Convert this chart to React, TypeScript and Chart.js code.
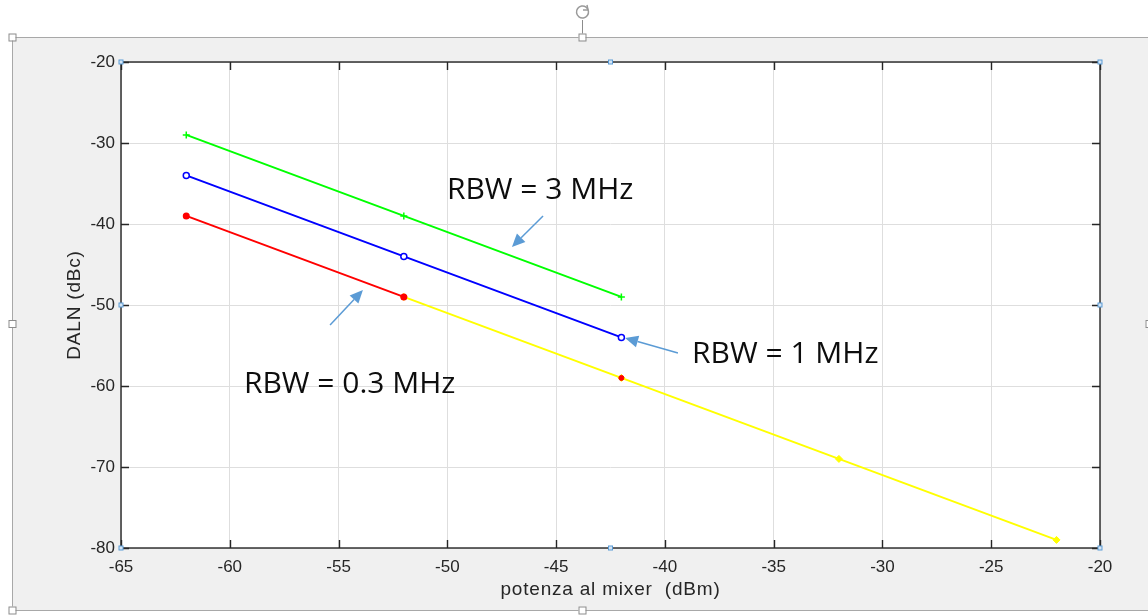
import React, { useEffect, useRef } from "react";
import { Chart, registerables } from "chart.js";

Chart.register(...registerables);

// ---- data ----
const xGreen = [-62, -52, -42];
const yGreen = [-29, -39, -49];
const xBlue = [-62, -52, -42];
const yBlue = [-34, -44, -54];
const xRed = [-62, -52];
const yRed = [-39, -49];
const xRedMark = [-42];
const yRedMark = [-59];
const xYellow = [-52, -42, -32, -22];
const yYellow = [-49, -59, -69, -79];

const xTicks = [-65, -60, -55, -50, -45, -40, -35, -30, -25, -20];
const yTicks = [-80, -70, -60, -50, -40, -30, -20];

const xTitle = "potenza al mixer  (dBm)";
const yTitle = "DALN (dBc)";

// annotation labels (data coordinates: left x, baseline y)
const labelTexts = ["RBW = 3 MHz", "RBW = 1 MHz", "RBW = 0.3 MHz"];
const labelX = [-50.02, -38.75, -59.35];
const labelY = [-36.91, -57.16, -60.86];
// arrows (data coordinates: tail -> head)
const arrowTailX = [-45.6, -55.39, -39.4];
const arrowTailY = [-39.01, -52.47, -55.93];
const arrowHeadX = [-47.03, -53.88, -41.83];
const arrowHeadY = [-42.84, -48.15, -54.07];

const pts = (xs: number[], ys: number[]) => xs.map((x, i) => ({ x, y: ys[i] }));

const frameLeft = 12;
const frameTop = 37;
const frameBottom = 610;

const decorPlugin = {
  id: "decor",
  beforeDraw(chart: any) {
    const { ctx, chartArea: a, width, height } = chart;
    ctx.save();
    ctx.fillStyle = "#ffffff";
    ctx.fillRect(0, 0, width, height);
    ctx.fillStyle = "#f0f0f0";
    ctx.fillRect(frameLeft, frameTop, width + 20, frameBottom - frameTop);
    ctx.strokeStyle = "#a8a8a8";
    ctx.lineWidth = 1;
    ctx.strokeRect(frameLeft + 0.5, frameTop + 0.5, width + 20, frameBottom - frameTop);
    ctx.fillStyle = "#ffffff";
    ctx.fillRect(a.left, a.top, a.right - a.left, a.bottom - a.top);
    ctx.restore();
  },
  afterDraw(chart: any) {
    const { ctx, chartArea: a, scales } = chart;
    const xs = scales.x;
    const ys = scales.y;
    ctx.save();
    // box
    ctx.strokeStyle = "#262626";
    ctx.lineWidth = 1.4;
    ctx.strokeRect(a.left, a.top, a.right - a.left, a.bottom - a.top);
    // inward ticks
    const tl = 8;
    ctx.beginPath();
    xTicks.forEach((v) => {
      const px = Math.round(xs.getPixelForValue(v)) + 0.5;
      ctx.moveTo(px, a.bottom);
      ctx.lineTo(px, a.bottom - tl);
      ctx.moveTo(px, a.top);
      ctx.lineTo(px, a.top + tl);
    });
    yTicks.forEach((v) => {
      const py = Math.round(ys.getPixelForValue(v)) + 0.5;
      ctx.moveTo(a.left, py);
      ctx.lineTo(a.left + tl, py);
      ctx.moveTo(a.right, py);
      ctx.lineTo(a.right - tl, py);
    });
    ctx.stroke();

    // axis titles
    ctx.fillStyle = "#262626";
    ctx.font = '19px "Liberation Sans", Arial, sans-serif';
    try { (ctx as any).letterSpacing = "0.8px"; } catch (e) {}
    ctx.textAlign = "center";
    ctx.textBaseline = "middle";
    ctx.fillText(xTitle, (a.left + a.right) / 2, 590);
    ctx.save();
    ctx.translate(75, (a.top + a.bottom) / 2);
    ctx.rotate(-Math.PI / 2);
    ctx.fillText(yTitle, 0, 0);
    ctx.restore();
    try { (ctx as any).letterSpacing = "0px"; } catch (e) {}

    // annotations
    ctx.fillStyle = "#0d0d0d";
    ctx.font = '30px "Open Sans", sans-serif';
    ctx.textAlign = "left";
    ctx.textBaseline = "alphabetic";
    labelTexts.forEach((t, i) => {
      ctx.fillText(t, xs.getPixelForValue(labelX[i]), ys.getPixelForValue(labelY[i]));
    });
    ctx.strokeStyle = "#5b9bd5";
    ctx.fillStyle = "#5b9bd5";
    ctx.lineWidth = 1.5;
    arrowTailX.forEach((_, i) => {
      const x1 = xs.getPixelForValue(arrowTailX[i]);
      const y1 = ys.getPixelForValue(arrowTailY[i]);
      const x2 = xs.getPixelForValue(arrowHeadX[i]);
      const y2 = ys.getPixelForValue(arrowHeadY[i]);
      const ang = Math.atan2(y2 - y1, x2 - x1);
      const hl = 13;
      const hw = 6;
      const bx = x2 - hl * Math.cos(ang);
      const by = y2 - hl * Math.sin(ang);
      ctx.beginPath();
      ctx.moveTo(x1, y1);
      ctx.lineTo(bx, by);
      ctx.stroke();
      ctx.beginPath();
      ctx.moveTo(x2, y2);
      ctx.lineTo(bx + hw * Math.sin(ang), by - hw * Math.cos(ang));
      ctx.lineTo(bx - hw * Math.sin(ang), by + hw * Math.cos(ang));
      ctx.closePath();
      ctx.fill();
    });

    // axes selection handles (blue)
    const midX = (a.left + a.right) / 2;
    const midY = (a.top + a.bottom) / 2;
    const blue = [
      [a.left, a.top], [midX, a.top], [a.right, a.top],
      [a.left, midY], [a.right, midY],
      [a.left, a.bottom], [midX, a.bottom], [a.right, a.bottom],
    ];
    ctx.lineWidth = 1;
    blue.forEach(([x, y]) => {
      ctx.fillStyle = "#d6e6f5";
      ctx.fillRect(x - 2, y - 2, 4, 4);
      ctx.strokeStyle = "#5b9bd5";
      ctx.strokeRect(x - 2, y - 2, 4, 4);
    });

    // frame handles (white squares)
    const midFrameX = 582;
    const midFrameY = (frameTop + frameBottom) / 2;
    ctx.strokeStyle = "#8c8c8c";
    ctx.beginPath();
    ctx.moveTo(midFrameX + 0.5, 20);
    ctx.lineTo(midFrameX + 0.5, frameTop - 3);
    ctx.stroke();
    const white = [
      [frameLeft, frameTop], [midFrameX, frameTop],
      [frameLeft, midFrameY], [frameLeft, frameBottom], [midFrameX, frameBottom],
      [1149, midFrameY],
    ];
    white.forEach(([x, y]) => {
      ctx.fillStyle = "#ffffff";
      ctx.fillRect(x - 3.5, y - 3.5, 7, 7);
      ctx.strokeRect(x - 3.5 + 0.5, y - 3.5 + 0.5, 7, 7);
    });
    // rotation icon
    ctx.strokeStyle = "#9a9a9a";
    ctx.lineWidth = 1.5;
    ctx.beginPath();
    ctx.arc(midFrameX + 0.5, 12, 6, -0.3 * Math.PI, 1.75 * Math.PI);
    ctx.stroke();
    ctx.beginPath();
    ctx.moveTo(midFrameX + 5, 5);
    ctx.lineTo(midFrameX + 6, 10);
    ctx.lineTo(midFrameX + 1, 10);
    ctx.stroke();
    ctx.restore();
  },
};

export default function App() {
  const ref = useRef<HTMLCanvasElement | null>(null);
  useEffect(() => {
    if (!ref.current) return;
    // Chart.js draws the last dataset first, so the first listed is on top.
    const chart = new Chart(ref.current, {
      type: "line",
      data: {
        datasets: [
          {
            data: pts(xBlue, yBlue),
            borderColor: "#0000ff",
            backgroundColor: "#ffffff",
            borderWidth: 2,
            pointStyle: "circle",
            pointRadius: 3,
            pointBorderWidth: 1.5,
          },
          {
            data: pts(xGreen, yGreen),
            borderColor: "#00ff00",
            backgroundColor: "#00ff00",
            borderWidth: 2,
            pointStyle: "cross",
            pointRadius: 3.5,
            pointBorderWidth: 1.5,
          },
          {
            data: pts(xRedMark, yRedMark),
            borderColor: "#ff0000",
            backgroundColor: "#ff0000",
            showLine: false,
            pointStyle: "circle",
            pointRadius: 2.5,
          },
          {
            data: pts(xRed, yRed),
            borderColor: "#ff0000",
            backgroundColor: "#ff0000",
            borderWidth: 2,
            pointStyle: "circle",
            pointRadius: 2.5,
          },
          {
            data: pts(xYellow, yYellow),
            borderColor: "#ffff00",
            backgroundColor: "#ffff00",
            borderWidth: 2,
            pointStyle: "rectRot",
            pointRadius: 3.5,
            pointBorderWidth: 1,
          },
        ] as any,
      },
      options: {
        animation: false,
        responsive: false,
        maintainAspectRatio: false,
        layout: { padding: { left: 0, top: 62, right: 48, bottom: 0 } },
        plugins: { legend: { display: false }, tooltip: { enabled: false } },
        elements: { line: { tension: 0 } },
        scales: {
          x: {
            type: "linear",
            min: -65,
            max: -20,
            afterBuildTicks: (s: any) => {
              s.ticks = xTicks.map((v) => ({ value: v }));
            },
            afterFit: (s: any) => {
              s.height = 68;
            },
            grid: { color: "#dedede", lineWidth: 1, drawTicks: false },
            border: { display: false },
            ticks: {
              padding: 9,
              color: "#262626",
              font: { family: '"Liberation Sans", Arial, sans-serif', size: 17 },
              maxRotation: 0,
              autoSkip: false,
            },
          },
          y: {
            type: "linear",
            min: -80,
            max: -20,
            afterBuildTicks: (s: any) => {
              s.ticks = yTicks.map((v) => ({ value: v }));
            },
            afterFit: (s: any) => {
              s.width = 121;
            },
            grid: { color: "#dedede", lineWidth: 1, drawTicks: false },
            border: { display: false },
            ticks: {
              padding: 6,
              color: "#262626",
              font: { family: '"Liberation Sans", Arial, sans-serif', size: 17 },
              autoSkip: false,
            },
          },
        },
      },
      plugins: [decorPlugin],
    });
    return () => chart.destroy();
  }, []);
  return (
    <canvas
      ref={ref}
      width={1148}
      height={616}
      style={{ position: "absolute", left: 0, top: 0, width: 1148, height: 616 }}
    />
  );
}
